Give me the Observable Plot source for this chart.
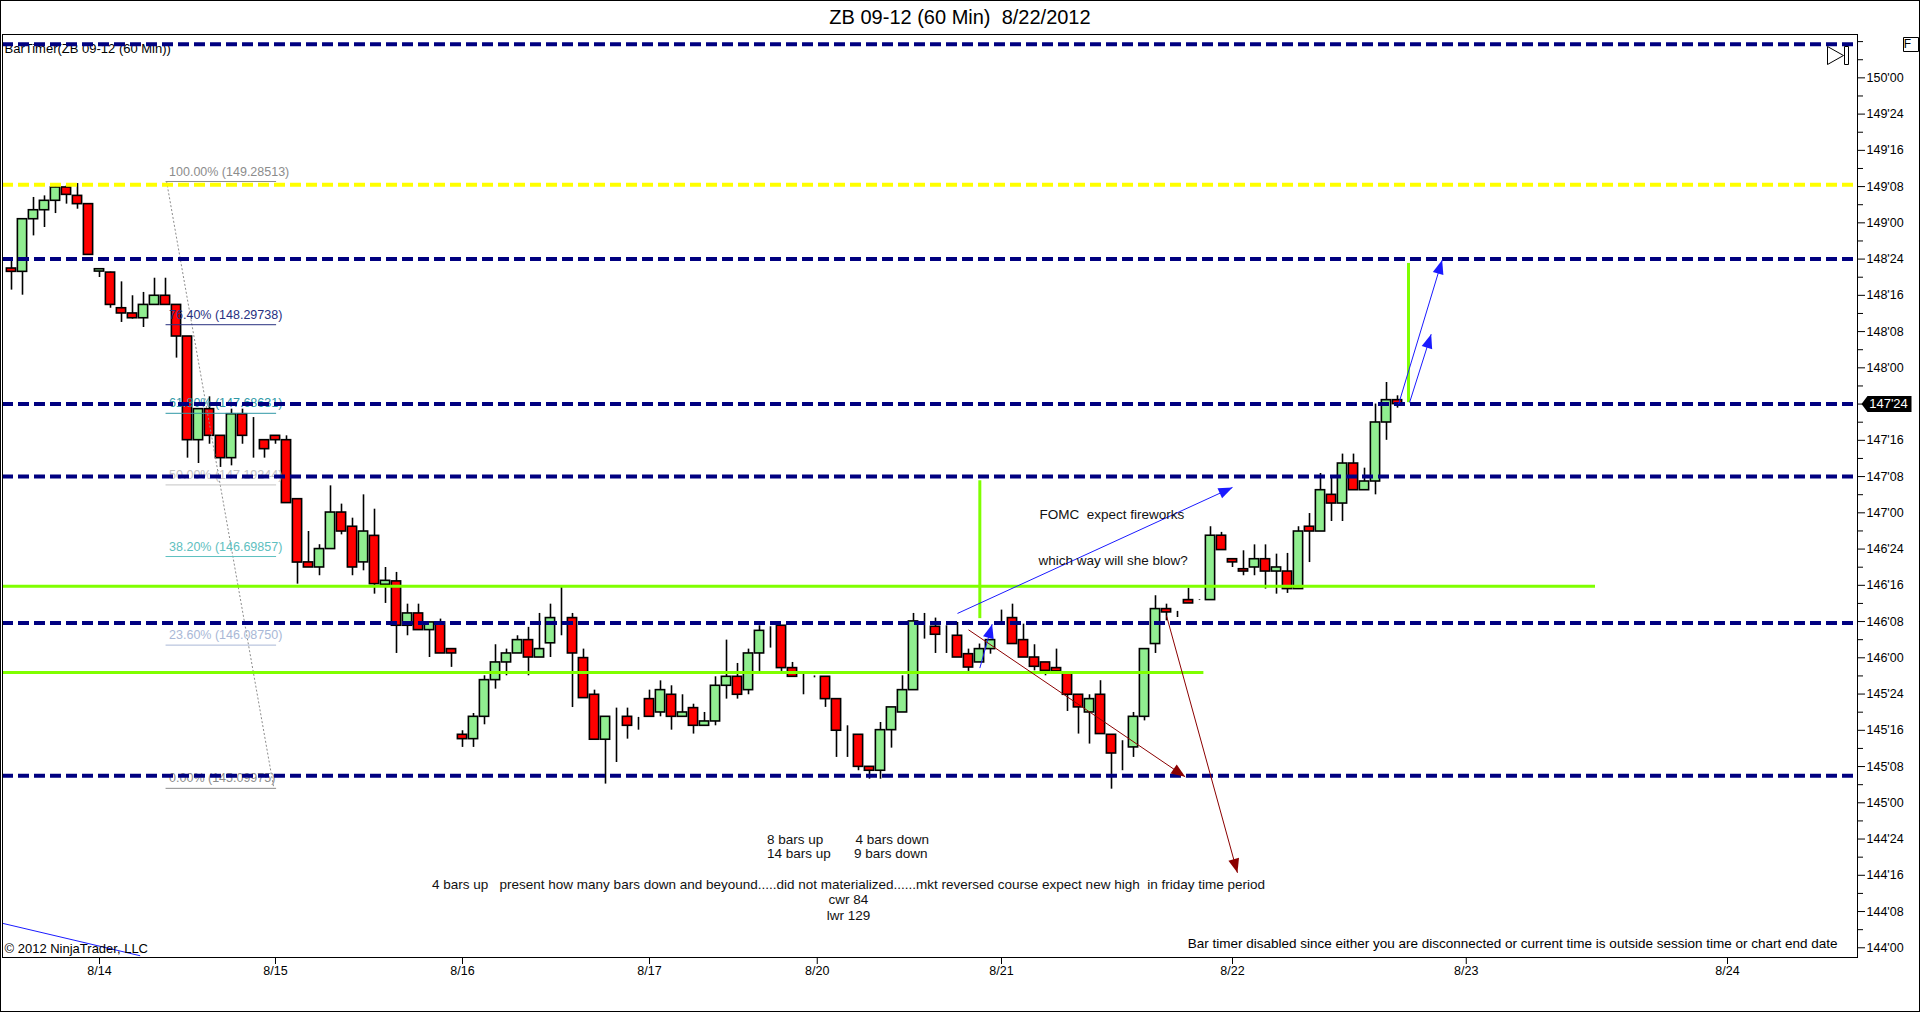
<!DOCTYPE html>
<html><head><meta charset="utf-8">
<script src="https://cdn.jsdelivr.net/npm/d3@7"></script>
<script src="https://cdn.jsdelivr.net/npm/@observablehq/plot@0.6"></script>
<style>
html,body{margin:0;padding:0;background:#fff;}
#wrap{width:1920px;height:1012px;box-sizing:border-box;border:1px solid #000;overflow:hidden;background:#fff;font-family:"Liberation Sans",Arial,sans-serif;}
#title{height:32px;line-height:32px;text-align:center;font-size:20px;color:#000;white-space:pre;}
svg text{white-space:pre;}
</style></head><body><div id="wrap"><div id="title">ZB 09-12 (60 Min)  8/22/2012</div><div id="chart"></div></div>
<script>
// ---- hourly OHLC bars (bar index 0..126) ----
const barOpen = [148.685,148.662,149.025,149.087,149.152,149.244,149.186,149.129,148.664,148.657,
148.411,148.375,148.342,148.434,148.497,148.434,148.216,147.501,147.715,147.531,
147.377,147.68,147.501,147.501,147.531,147.501,147.094,146.658,146.623,146.75,
147.002,146.904,146.658,146.841,146.504,146.527,146.221,146.306,146.191,146.244,
146.06,145.469,145.439,145.593,145.846,145.968,146.03,146.122,146.002,146.10,
146.283,146.274,145.998,145.745,145.435,145.593,145.593,145.561,145.715,145.623,
145.745,145.593,145.653,145.531,145.561,145.807,145.869,145.777,146.03,146.186,
146.221,145.929,145.869,145.869,145.869,145.715,145.469,145.469,145.248,145.221,
145.501,145.623,145.777,146.251,146.214,146.159,146.152,146.025,145.968,146.06,
146.278,146.274,146.122,146.002,145.968,145.929,145.892,145.745,145.623,145.745,
145.469,145.34,145.382,145.593,146.095,146.336,146.32,146.398,146.398,146.398,
146.842,146.68,146.611,146.623,146.68,146.595,146.595,146.474,146.904,146.871,
147.124,147.064,147.34,147.156,147.216,147.623,147.777];
const barHigh = [148.75,149.03,149.175,149.186,149.255,149.255,149.271,149.129,148.680,148.66,
148.593,148.497,148.52,148.618,148.618,148.434,148.216,147.715,147.80,147.531,
147.715,147.715,147.657,147.501,147.531,147.531,147.094,146.871,146.78,147.186,
147.06,146.963,147.124,147.025,146.623,146.589,146.37,146.37,146.244,146.267,
146.06,145.497,145.616,145.876,146.09,146.06,146.152,146.21,146.306,146.37,
146.485,146.306,146.06,145.777,145.593,145.653,145.653,145.589,145.777,145.841,
145.807,145.745,145.68,145.623,145.869,146.122,145.961,146.06,146.221,146.214,
146.221,145.968,145.887,145.875,145.869,145.715,145.531,145.469,145.248,145.554,
145.658,145.876,146.306,146.306,146.274,146.221,146.244,146.06,146.095,146.122,
146.329,146.37,146.232,146.09,145.968,146.06,145.892,145.745,145.745,145.842,
145.469,145.428,145.623,146.06,146.428,146.37,146.32,146.48,146.40,146.904,
146.865,146.68,146.738,146.779,146.779,146.715,146.72,146.904,146.995,147.271,
147.239,147.405,147.405,147.308,147.75,147.899,147.807];
const barLow = [148.536,148.501,148.910,148.968,149.064,149.129,149.094,148.779,148.623,148.411,
148.313,148.336,148.278,148.434,148.434,148.067,147.377,147.34,147.473,147.313,
147.324,147.473,147.377,147.377,147.473,147.067,146.508,146.623,146.566,146.75,
146.848,146.566,146.60,146.439,146.375,146.03,146.152,146.191,146.002,146.03,
145.934,145.382,145.382,145.538,145.784,145.876,146.03,145.876,146.002,146.002,
146.152,145.657,145.722,145.435,145.129,145.278,145.439,145.501,145.593,145.593,
145.501,145.593,145.474,145.531,145.531,145.715,145.715,145.745,145.906,146.067,
145.906,145.869,145.745,145.862,145.658,145.313,145.313,145.221,145.163,145.163,
145.377,145.623,145.777,146.129,146.03,146.03,146.002,145.906,145.968,146.025,
146.244,146.095,146.002,145.91,145.876,145.906,145.63,145.474,145.405,145.474,
145.094,145.221,145.313,145.565,146.03,146.255,146.278,146.375,146.395,146.398,
146.743,146.623,146.566,146.566,146.474,146.439,146.444,146.474,146.657,146.871,
146.94,146.94,147.156,147.156,147.124,147.5,147.722];
const barClose = [148.662,149.025,149.087,149.152,149.244,149.193,149.129,148.779,148.680,148.434,
148.375,148.342,148.434,148.497,148.434,148.216,147.501,147.715,147.531,147.377,
147.68,147.531,147.501,147.439,147.501,147.067,146.657,146.623,146.75,147.002,
146.871,146.623,146.871,146.508,146.531,146.221,146.306,146.191,146.244,146.03,
146.03,145.439,145.593,145.846,145.968,146.03,146.122,146.002,146.06,146.274,
146.283,146.03,145.722,145.435,145.593,145.593,145.531,145.561,145.593,145.777,
145.593,145.623,145.531,145.561,145.807,145.869,145.745,146.03,146.186,146.186,
145.929,145.869,145.869,145.869,145.715,145.497,145.469,145.248,145.221,145.501,
145.658,145.777,146.251,146.251,146.159,146.159,146.002,145.933,146.06,146.122,
146.278,146.095,146.002,145.938,145.91,145.906,145.745,145.658,145.715,145.474,
145.34,145.34,145.593,146.06,146.336,146.313,146.32,146.375,146.398,146.842,
146.743,146.658,146.595,146.68,146.595,146.623,146.474,146.871,146.871,147.156,
147.064,147.34,147.156,147.216,147.623,147.777,147.75];

// ---- axis ticks ----
const dateTickIdx = [8, 24, 41, 58, 73.25, 90, 111, 132.25, 156];
const dateTickLabels = ["8/14","8/15","8/16","8/17","8/20","8/21","8/22","8/23","8/24"];
const priceTicks = [144,144.25,144.5,144.75,145,145.25,145.5,145.75,146,146.25,146.5,146.75,147,147.25,147.5,147.75,148,148.25,148.5,148.75,149,149.25,149.5,149.75,150];
const priceMinorTicks = [144.125,144.375,144.625,144.875,145.125,145.375,145.625,145.875,146.125,146.375,146.625,146.875,147.125,147.375,147.625,147.875,148.125,148.375,148.625,148.875,149.125,149.375,149.625,149.875,150.125,150.25];
const lastPrice = [147.75];

// ---- drawing objects ----
const navyLevels = [150.232, 148.75, 147.75, 147.25, 146.24, 145.186];
const yellowLevels = [149.262];
const greenHY = [146.494, 145.899];
const greenHStart = [-1, -1];
const greenHEnd = [144.0, 108.4];
const greenVX = [88.03, 127.0];
const greenVLow = [146.27, 147.76];
const greenVHigh = [147.221, 148.72];

const fibPct = ["100.00%","76.40%","61.80%","50.00%","38.20%","23.60%","0.00%"];
const fibPrice = [149.28513,148.29738,147.68631,147.19244,146.69857,146.08750,145.09975];
const fibColor = ["#8c8c8c","#27307f","#2f98a6","#c4c4c4","#5ec0c0","#a9b8d6","#8c8c8c"];
const fibStartIdx = 14.05, fibEndIdx = 24.1;
const fibDiag = {x1: 14.1, y1: 149.28513, x2: 23.85, y2: 145.09975};

const arrowX1 = [86.0, 88.03, 126.1, 127.1, 87.0, 105.0];
const arrowY1 = [146.306, 145.929, 147.75, 147.761, 146.193, 146.29];
const arrowX2 = [111.0, 89.15, 130.06, 129.06, 106.7, 111.45];
const arrowY2 = [147.175, 146.232, 148.743, 148.232, 145.179, 144.517];
const arrowColor = ["#1a1aff","#1a1aff","#1a1aff","#1a1aff","#8b0000","#8b0000"];
const trendLine = {x1: -1.0, y1: 144.172, x2: 11.7, y2: 143.945};

const notes = [
  {x: 93.45, y: 146.988, text: "FOMC  expect fireworks"},
  {x: 93.36, y: 146.671, text: "which way will she blow?"},
  {x: 68.68, y: 144.747, text: "8 bars up"},
  {x: 76.73, y: 144.747, text: "4 bars down"},
  {x: 68.68, y: 144.647, text: "14 bars up"},
  {x: 76.59, y: 144.647, text: "9 bars down"}
];
const noteBlock = {x: 76.09, y: 144.333, text: "4 bars up   present how many bars down and beyound.....did not materialized......mkt reversed course expect new high  in friday time period\ncwr 84\nlwr 129"};
const topLeftText = ["BarTimer(ZB 09-12 (60 Min))"];
const copyrightText = ["© 2012 NinjaTrader, LLC"];
const timerText = ["Bar timer disabled since either you are disconnected or current time is outside session time or chart end date"];

// ---- build ----
const candles = barOpen.map((o, i) => ({i, open: o, high: barHigh[i], low: barLow[i], close: barClose[i]}));
const fib = fibPct.map((p, i) => ({label: `${p} (${fibPrice[i].toFixed(5)})`, price: fibPrice[i], color: fibColor[i]}));
const greenH = greenHY.map((y, i) => ({y, x1: greenHStart[i], x2: greenHEnd[i]}));
const greenV = greenVX.map((x, i) => ({x, y1: greenVLow[i], y2: greenVHigh[i]}));

const W = 1918, H = 978, mL = 1, mR = 62, mT = 1, mB = 54;
const xDomain = [-0.818, 167.818];
const yDomain = [143.933, 150.299];
const sx = Plot.scale({x: {domain: xDomain, range: [mL, W - mR]}});
const sy = Plot.scale({y: {domain: yDomain, range: [H - mB, mT]}});
const arrows = arrowX1.map((x1, i) => {
  const x2 = arrowX2[i], y1 = arrowY1[i], y2 = arrowY2[i];
  const ang = Math.atan2(sy.apply(y2) - sy.apply(y1), sx.apply(x2) - sx.apply(x1)) * 180 / Math.PI;
  return {x1, y1, x2, y2, color: arrowColor[i], ang};
});

const headSym = {draw(ctx) { ctx.moveTo(0, 0); ctx.lineTo(-14, -5.5); ctx.lineTo(-14, 5.5); ctx.closePath(); }};
const tagSym = {draw(ctx) { ctx.moveTo(0, 0); ctx.lineTo(6, -8); ctx.lineTo(50, -8); ctx.lineTo(50, 8); ctx.lineTo(6, 8); ctx.closePath(); }};
const playSym = {draw(ctx) {
  ctx.moveTo(0, 12); ctx.lineTo(16, 21); ctx.lineTo(0, 30); ctx.closePath();
  ctx.moveTo(17, 12); ctx.lineTo(21, 12); ctx.lineTo(21, 30); ctx.lineTo(17, 30); ctx.closePath();
}};
const boxSym = {draw(ctx) { ctx.moveTo(0, 3); ctx.lineTo(15, 3); ctx.lineTo(15, 17); ctx.lineTo(0, 17); ctx.closePath(); }};

const fmt32 = v => { const w = Math.floor(v + 1e-9); return `${w}'${String(Math.round((v - w) * 32)).padStart(2, "0")}`; };
// the axis label under the current-price tag is hidden by the tag itself
const axisFmt = v => lastPrice.includes(v) ? "" : fmt32(v);
const dateLabel = new Map(dateTickIdx.map((d, i) => [d, dateTickLabels[i]]));
const fontFam = "'Liberation Sans', Arial, sans-serif";

const chart = Plot.plot({
  width: W, height: H,
  marginTop: mT, marginRight: mR, marginBottom: mB, marginLeft: mL,
  style: {fontFamily: fontFam, fontSize: "13px", background: "#fff", color: "#000", overflow: "visible"},
  x: {domain: xDomain, axis: null},
  y: {domain: yDomain, axis: null},
  color: {type: "identity"},
  marks: [
    Plot.text(topLeftText, {frameAnchor: "top-left", lineAnchor: "middle", dx: 2, dy: 14, textAnchor: "start", fontSize: 13, fill: "#000"}),
    // candles
    Plot.ruleX(candles, {x: "i", y1: "low", y2: "high", stroke: "#000", strokeWidth: 1.6}),
    Plot.rect(candles, {x1: d => d.i - 0.42, x2: d => d.i + 0.42, y1: "open", y2: "close",
      fill: d => d.close >= d.open ? "#90ee90" : "#ff0000", stroke: "#000", strokeWidth: 1.6}),
    // fibonacci retracement
    Plot.link([fibDiag], {x1: "x1", y1: "y1", x2: "x2", y2: "y2", stroke: "#8c8c8c", strokeWidth: 1, strokeDasharray: "2,2"}),
    Plot.ruleY(fib, {y: "price", x1: () => fibStartIdx, x2: () => fibEndIdx, stroke: "color", strokeWidth: 1}),
    Plot.text(fib, {x: () => fibStartIdx, y: "price", text: "label", fill: "color", textAnchor: "start", dx: 3, dy: -10, fontSize: 12.5}),
    // horizontal levels
    Plot.ruleY(greenH, {y: "y", x1: "x1", x2: "x2", stroke: "#7fff00", strokeWidth: 3, clip: true}),
    Plot.ruleY(navyLevels, {stroke: "#000080", strokeWidth: 4, strokeDasharray: "11,5"}),
    Plot.ruleY(yellowLevels, {stroke: "#ffff00", strokeWidth: 4, strokeDasharray: "11,5"}),
    Plot.ruleX(greenV, {x: "x", y1: "y1", y2: "y2", stroke: "#7fff00", strokeWidth: 3}),
    // arrows
    Plot.link([trendLine], {x1: "x1", y1: "y1", x2: "x2", y2: "y2", stroke: "#1a1aff", strokeWidth: 1, clip: true}),
    Plot.link(arrows, {x1: "x1", y1: "y1", x2: "x2", y2: "y2", stroke: "color", strokeWidth: 1}),
    Plot.dot(arrows, {x: "x2", y: "y2", rotate: "ang", symbol: headSym, fill: "color", stroke: "none"}),
    // notes
    Plot.text(notes, {x: "x", y: "y", text: "text", textAnchor: "start", fontSize: 13.5, fill: "#111"}),
    Plot.text([noteBlock], {x: "x", y: "y", text: "text", textAnchor: "middle", lineHeight: 1.15, fontSize: 13.5, fill: "#111"}),
    Plot.text(copyrightText, {frameAnchor: "bottom-left", lineAnchor: "middle", dx: 2, dy: -9, textAnchor: "start", fontSize: 13, fill: "#000"}),
    Plot.text(timerText, {frameAnchor: "bottom-right", lineAnchor: "middle", dx: -20, dy: -14, textAnchor: "end", fontSize: 13.5, fill: "#000"}),
    // chart chrome
    Plot.dot([0], {frameAnchor: "top-right", dx: -30, symbol: playSym, stroke: "#000", fill: "#fff", strokeWidth: 1}),
    Plot.frame({stroke: "#000", strokeWidth: 1}),
    Plot.axisY(priceTicks, {anchor: "right", tickSize: 7, tickPadding: 2, tickFormat: axisFmt, fontSize: 12.5, stroke: "#000", fill: "#000"}),
    Plot.axisY(priceMinorTicks, {anchor: "right", tickSize: 5, tickFormat: () => "", stroke: "#000"}),
    Plot.axisX(dateTickIdx, {anchor: "bottom", tickSize: 7, tickPadding: 2, tickFormat: d => dateLabel.get(d), fontSize: 12.5, stroke: "#000", fill: "#000"}),
    Plot.dot(lastPrice, {y: d => d, frameAnchor: "right", dx: 4, symbol: tagSym, fill: "#000", stroke: "none"}),
    Plot.text(lastPrice, {y: d => d, frameAnchor: "right", dx: 31, text: d => fmt32(d), fill: "#fff", fontSize: 13, textAnchor: "middle"}),
    Plot.dot([0], {frameAnchor: "top-right", dx: 46, symbol: boxSym, stroke: "#000", fill: "none", strokeWidth: 1}),
    Plot.text(["F"], {frameAnchor: "top-right", lineAnchor: "middle", dx: 53.5, dy: 10, fontSize: 12, fill: "#000"})
  ]
});
document.getElementById("chart").appendChild(chart);
</script></body></html>
